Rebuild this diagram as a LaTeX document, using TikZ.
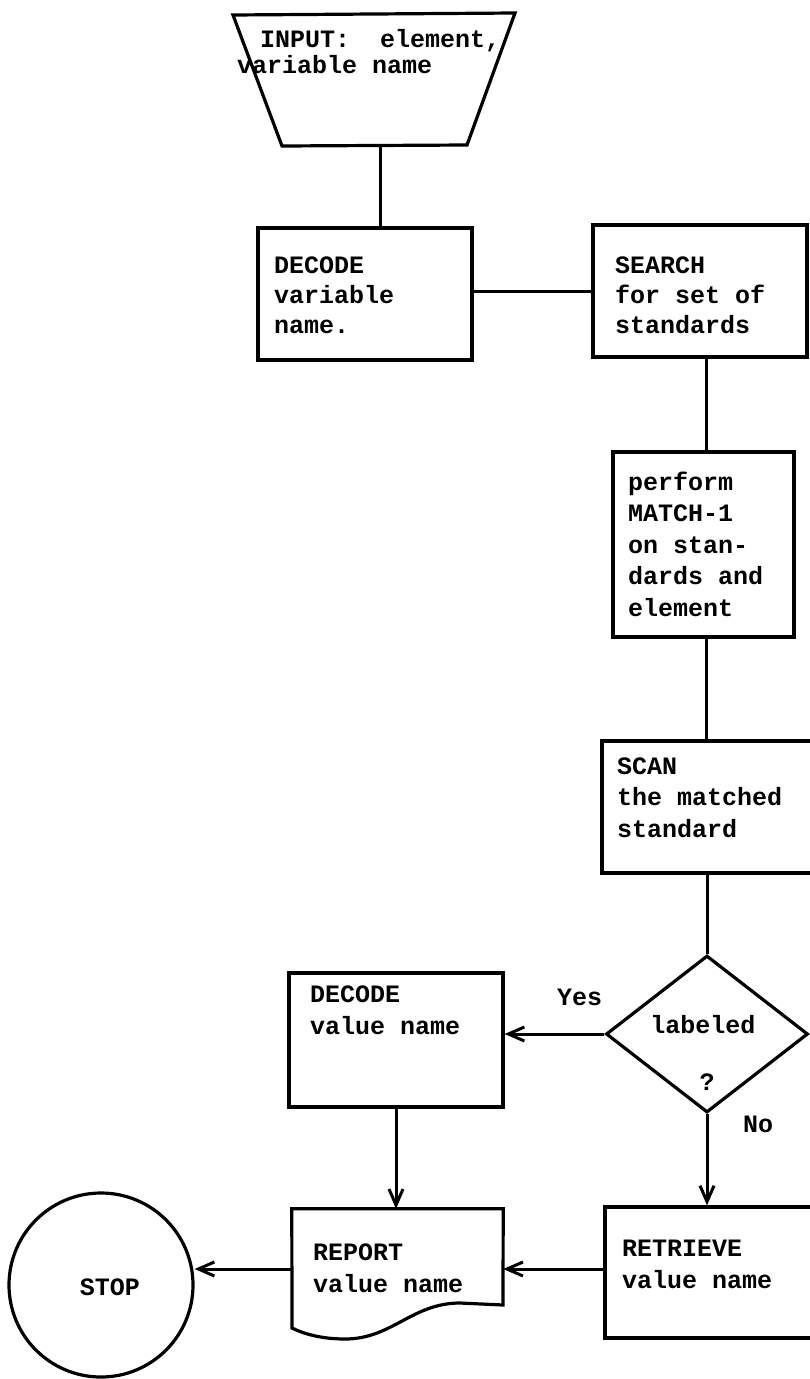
\documentclass[tikz,border=0pt]{standalone}
\usepackage{fontspec}
\newfontfamily\twfont{Liberation Mono}
\usetikzlibrary{arrows.meta,shapes.geometric,calc}
\begin{document}
\begin{tikzpicture}[x=1pt,y=-1pt,
  box/.style={draw, line width=3.2pt, inner sep=0pt, rectangle},
  ghost/.style={inner sep=0pt, rectangle},
  con/.style={line width=3pt},
  arr/.style={line width=3pt, -{Straight Barb[length=16pt,width=14pt]}},
  txt/.style={font=\twfont\bfseries\fontsize{25}{31.5}\selectfont, inner sep=0pt, anchor=base west, align=left},
  tight/.style={font=\twfont\bfseries\fontsize{25}{30}\selectfont},
]
\path[use as bounding box] (0,0) rectangle (810,1379);
\clip (0,0) rectangle (810,1379);

% input trapezoid
\node[ghost, minimum width=282pt, minimum height=133pt] (input) at (374,79.5) {};
\draw[line width=3.2pt, line join=miter] (233,15) -- (515,13) -- (467,145) -- (282,146) -- cycle;
\node[txt] (t1a) at (260,47) {INPUT:\ \ element,};
\node[txt] (t1b) at (237,73) {variable name};
\coordinate (topx) at (380,0);
\coordinate (colx) at (706,0);

% boxes
\node[box, minimum width=214pt, minimum height=132pt] (dec1) at (365,294) {};
\node[box, minimum width=214pt, minimum height=132pt] (search) at (700,291) {};
\node[box, minimum width=181pt, minimum height=185pt] (perf) at (703.5,544.5) {};
\node[box, minimum width=228pt, minimum height=132pt] (scan) at (716,807) {};
\node[draw, diamond, line width=3.2pt, inner sep=0pt, minimum width=202pt, minimum height=157pt] (dia) at (707,1034) {};
\node[box, minimum width=214pt, minimum height=134pt] (dec2) at (396,1040) {};
\node[ghost, minimum width=211pt, minimum height=120pt] (report) at (397.5,1269) {};
\draw[line width=3.2pt] (report.north west) -- (report.north east) -- (503,1305) -- (460,1303)
  .. controls (412,1303) and (392,1339) .. (345,1339)
  .. controls (322,1339) and (304,1334) .. (292,1328) -- cycle;
\node[box, minimum width=225pt, minimum height=131pt] (ret) at (717.5,1272.5) {};
\node[draw, circle, line width=3.2pt, inner sep=0pt, minimum size=184pt] (stop) at (101,1285) {};

% texts (anchor = baseline of last line)
\node[txt, tight] (t2) at (274,333) {DECODE\\variable\\name.};
\node[txt, tight] (t3) at (615,333) {SEARCH\\for set of\\standards};
\node[txt] (t4) at (628,616) {perform\\MATCH-1\\on stan-\\dards and\\element};
\node[txt] (t5) at (617,837) {SCAN\\the matched\\standard};
\node[txt] (t6) at (310,1034) {DECODE\\value name};
\node[txt] (t7) at (313,1292) {REPORT\\value name};
\node[txt] (t8) at (622,1288) {RETRIEVE\\value name};
\node[txt, anchor=base] (t9) at (703,1033) {labeled};
\node[txt, anchor=base] (t10) at (707,1090) {?};
\node[txt] (t11) at (557,1005) {Yes};
\node[txt] (t12) at (743,1132) {No};
\node[txt, anchor=base] (t13) at (110,1295) {STOP};

% connectors
\draw[con] (input.south -| topx) -- (topx |- dec1.north);
\draw[con] (search.west -| dec1.east) -- (search.west);
\draw[con] (search.south -| colx) -- (colx |- perf.north);
\draw[con] (perf.south -| colx) -- (colx |- scan.north);
\draw[con] (scan.south -| dia.north) -- (dia.north);
\draw[arr] (dia.west) -- (dia.west -| dec2.east);
\draw[arr] (dia.south) -- (dia.south |- ret.north);
\draw[arr] (dec2.south) -- (dec2.south |- report.north);
\draw[arr] (ret.west |- report.east) -- (report.east);
\draw[arr] (report.west) -- (report.west -| stop.east);
\end{tikzpicture}
\end{document}
